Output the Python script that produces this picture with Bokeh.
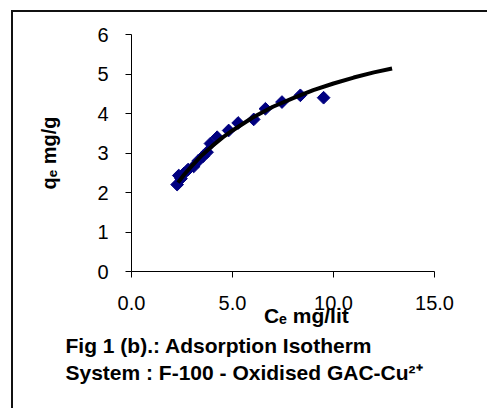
import math
from bokeh.plotting import figure
from bokeh.models import Range1d, FixedTicker, Title, CustomJSTickFormatter
from bokeh.embed import file_html
from bokeh.resources import INLINE

# Experimental points (Ce mg/lit, qe mg/g)
ce = [2.26, 2.34, 2.45, 2.59, 2.80, 3.08, 3.30, 3.55, 3.74, 3.91, 4.24, 4.81, 5.28, 6.05, 6.63, 7.45, 8.36, 9.51]
qe = [2.20, 2.43, 2.35, 2.48, 2.58, 2.66, 2.80, 2.92, 3.02, 3.24, 3.40, 3.57, 3.76, 3.85, 4.12, 4.29, 4.46, 4.40]

# Fitted isotherm curve
fit_x = [2.3, 2.6, 3.0, 3.5, 4.0, 4.5, 5.0, 6.0, 7.0, 8.0, 9.0, 10.0, 11.0, 12.0, 12.9]
fit_y = [2.25, 2.45, 2.68, 2.95, 3.18, 3.39, 3.57, 3.90, 4.17, 4.39, 4.59, 4.76, 4.91, 5.04, 5.14]

x_ticks = [0, 5, 10, 15]
y_ticks = [0, 1, 2, 3, 4, 5, 6]

x_title = "Cₑ mg/lit"
y_title = "qₑ mg/g"
caption_1 = "Fig 1 (b).: Adsorption Isotherm"
caption_2 = "System : F-100 - Oxidised GAC-Cu²⁺"

FONT = "Liberation Sans"
W, H = 476, 398
FL, FT, FW, FH = 118, 22, 303, 237

p = figure(width=W, height=H, output_backend="svg", toolbar_location=None,
           x_range=Range1d(0, 15), y_range=Range1d(0, 6),
           min_border_left=FL, min_border_right=W - FL - FW,
           min_border_top=FT, min_border_bottom=H - FT - FH)
p.styles = {"position": "relative", "left": "13px", "top": "12px",
            "box-shadow": "-2px -2px 0px 0px #111111"}
p.grid.visible = False
p.outline_line_color = None
p.background_fill_color = "white"
p.border_fill_color = "white"

for ax in (p.xaxis[0], p.yaxis[0]):
    ax.axis_line_color = "black"
    ax.axis_line_width = 1
    ax.major_tick_line_color = "black"
    ax.major_tick_in = 0
    ax.major_tick_out = 6
    ax.minor_tick_line_color = None
    ax.major_label_text_font = FONT
    ax.major_label_text_font_size = "20px"
    ax.major_label_text_color = "black"
    ax.axis_label_text_font = FONT
    ax.axis_label_text_font_style = "bold"
    ax.axis_label_text_color = "black"

p.xaxis[0].ticker = FixedTicker(ticks=x_ticks)
p.xaxis[0].formatter = CustomJSTickFormatter(code="return tick.toFixed(1);")
p.xaxis[0].major_label_standoff = 18
p.xaxis[0].axis_label = "\u00a0" * 8 + x_title
p.xaxis[0].axis_label_text_font_size = "21px"
p.xaxis[0].axis_label_standoff = -9

p.yaxis[0].ticker = FixedTicker(ticks=y_ticks)
p.yaxis[0].major_label_standoff = 17
p.yaxis[0].axis_label = y_title
p.yaxis[0].axis_label_text_font_size = "20px"
p.yaxis[0].axis_label_standoff = 34

p.scatter(ce, qe, marker="square", size=9, angle=math.pi / 4,
          fill_color="#000080", line_color="#000080")
p.line(fit_x, fit_y, line_color="black", line_width=4)

for txt, so in ((caption_1, 4), (caption_2, 0)):
    p.add_layout(Title(text=txt, align="left", offset=65 - 131, standoff=so,
                       text_font=FONT, text_font_size="21px", text_font_style="bold",
                       text_color="black"), "below")

open("out.html", "w").write(file_html(p, INLINE))
